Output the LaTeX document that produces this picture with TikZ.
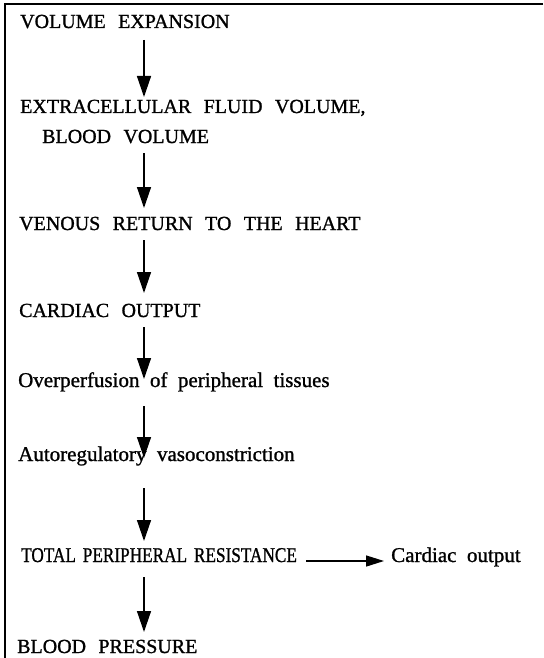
\documentclass[tikz,border=0pt]{standalone}
\usepackage{fontspec}
\setmainfont{Liberation Serif}
\newfontfamily\scanfont{Liberation Serif}[FakeBold=1.1]
\usetikzlibrary{arrows.meta,calc}
\newcommand\capgap{\spaceskip=0.62em\relax}
\newcommand\lowgap{\spaceskip=0.5em\relax}
\newcommand\tightgap{\spaceskip=0.4em\relax}
\begin{document}
\begin{tikzpicture}[x=1pt,y=-1pt,
  lbl/.style={anchor=base west,inner sep=0pt,text height=14pt,text depth=4pt,
    font=\scanfont\fontsize{20}{24}\selectfont\capgap},
  lowlbl/.style={lbl,font=\scanfont\fontsize{21}{25}\selectfont\lowgap},
  narrowlbl/.style={lbl,font=\scanfont\fontsize{21}{25}\selectfont\tightgap},
  arr/.style={line width=1.4pt,-{Triangle[length=21pt,width=14pt]}},
  harr/.style={line width=1.4pt,-{Triangle[length=18pt,width=11pt]}}]
\useasboundingbox (0,0) rectangle (543,658);
\draw[line width=1.5pt] (543,4) -- (5,4) -- (5,658);
\coordinate (ax) at (144,0);
\node[lbl] (n1) at (20,28) {VOLUME EXPANSION};
\node[lbl] (n2) at (20,113) {EXTRACELLULAR FLUID VOLUME,};
\node[lbl] (n2b) at (42,143) {BLOOD VOLUME};
\node[lbl] (n3) at (19,230) {VENOUS RETURN TO THE HEART};
\node[lbl] (n4) at (19,317) {CARDIAC OUTPUT};
\node[lowlbl] (n5) at (18,387) {Overperfusion of peripheral tissues};
\node[lowlbl] (n6) at (18,461) {Autoregulatory vasoconstriction};
\node[narrowlbl] (n7) at (21,562) {\scalebox{0.82}[1]{TOTAL PERIPHERAL RESISTANCE}};
\node[lowlbl] (n8) at (391,562) {Cardiac output};
\node[lbl] (n9) at (17,653) {BLOOD PRESSURE};
\draw[arr] ($(ax|-n1.base)+(0,12)$) -- ($(ax|-n2.base)+(0,-16)$);
\draw[arr] ($(ax|-n2b.base)+(0,10)$) -- ($(ax|-n3.base)+(0,-22)$);
\draw[arr] ($(ax|-n3.base)+(0,10)$) -- ($(ax|-n4.base)+(0,-24)$);
\draw[arr] ($(ax|-n4.base)+(0,10)$) -- ($(ax|-n5.base)+(0,-8)$);
\draw[arr] ($(ax|-n5.base)+(0,19)$) -- ($(ax|-n6.base)+(0,-3)$);
\draw[arr] ($(ax|-n6.base)+(0,27)$) -- ($(ax|-n7.base)+(0,-21)$);
\draw[arr] ($(ax|-n7.base)+(0,15)$) -- ($(ax|-n9.base)+(0,-21)$);
\draw[harr,shorten <=9pt,shorten >=7pt] ($(n7.base east)+(0,-1)$) -- ($(n8.base west)+(0,-1)$);
\end{tikzpicture}
\end{document}
